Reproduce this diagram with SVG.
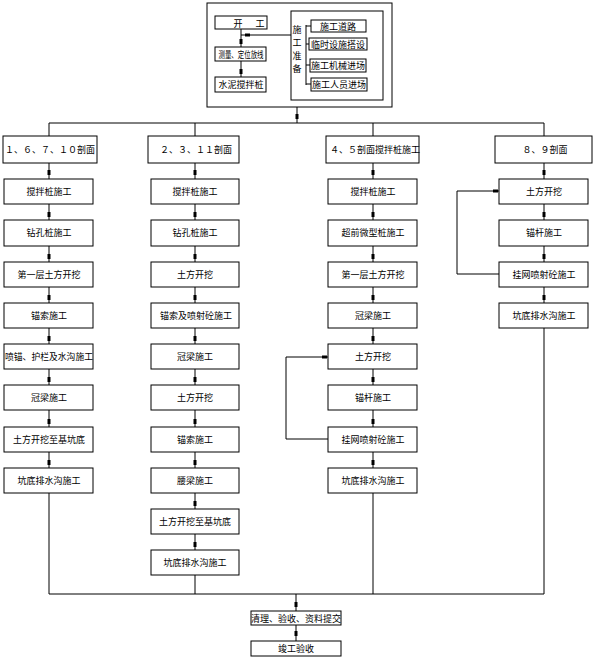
<svg xmlns="http://www.w3.org/2000/svg" xmlns:xlink="http://www.w3.org/1999/xlink" width="595" height="661" viewBox="0 0 595 661">
<style>
rect{fill:#fff;stroke:#000;stroke-width:1}
rect.f{fill:none}
.c{fill:none;stroke:#000;stroke-width:1}
text{font-family:"Noto Sans CJK SC","Liberation Sans",sans-serif;font-size:9px;fill:#000;text-anchor:middle}
</style>
<defs>
<path id="ad" d="M-1.5,-3h3v5h-3z" fill="#000"/>
<path id="ar" d="M-3,-1.5v3h5v-3z" fill="#000"/>
<path id="al" d="M3,-1.5v3h-5v-3z" fill="#000"/>
</defs>
<rect width="595" height="661" style="fill:#fff;stroke:none"/>
<g id="prep">
<rect class="f" x="207" y="3" width="185" height="104"/>
<rect class="f" x="291" y="11" width="92" height="89"/>
<text x="297" y="33" font-size="10">施</text><text x="297" y="46" font-size="10">工</text><text x="297" y="59" font-size="10">准</text><text x="297" y="72" font-size="10">备</text>
</g>
<g id="connectors">
<path class="c" d="M241,29V47M241,61V77M241,35H291M306,25V85M306,26H311M306,44H309M306,65H310M306,84H311M297,107V123M49,123H544M49,123V136M195,123V136M373,123V136M544,123V136"/>
<path class="c" d="M49,163V179M49,204V220M49,246V262M49,287V303M49,328V344M49,369V385M49,410V427M49,452V468M49,493V594"/>
<path class="c" d="M195,163V179M195,204V220M195,246V262M195,287V303M195,328V344M195,369V385M195,410V427M195,452V468M195,493V509M195,534V550M195,575V594"/>
<path class="c" d="M373,163V179M373,204V220M373,246V262M373,287V303M373,328V344M373,369V385M373,410V427M373,452V468M373,493V594M328,439H286V357H328"/>
<path class="c" d="M544,163V179M544,204V220M544,246V262M544,287V303M544,328V594M499,274H457V191H499"/>
<path class="c" d="M49,594H544M296,594V611M296,625V641"/>
<use href="#ad" x="241" y="42"/><use href="#ad" x="241" y="72"/><use href="#al" x="247" y="35"/><use href="#ad" x="297" y="117"/>
<use href="#ad" x="49" y="173"/><use href="#ad" x="49" y="215"/><use href="#ad" x="49" y="257"/><use href="#ad" x="49" y="298"/><use href="#ad" x="49" y="339"/><use href="#ad" x="49" y="380"/><use href="#ad" x="49" y="422"/><use href="#ad" x="49" y="463"/>
<use href="#ad" x="195" y="173"/><use href="#ad" x="195" y="215"/><use href="#ad" x="195" y="257"/><use href="#ad" x="195" y="298"/><use href="#ad" x="195" y="339"/><use href="#ad" x="195" y="380"/><use href="#ad" x="195" y="422"/><use href="#ad" x="195" y="463"/><use href="#ad" x="195" y="504"/><use href="#ad" x="195" y="545"/>
<use href="#ad" x="373" y="173"/><use href="#ad" x="373" y="215"/><use href="#ad" x="373" y="257"/><use href="#ad" x="373" y="298"/><use href="#ad" x="373" y="339"/><use href="#ad" x="373" y="380"/><use href="#ad" x="373" y="422"/><use href="#ad" x="373" y="463"/><use href="#ar" x="325" y="357"/>
<use href="#ad" x="544" y="173"/><use href="#ad" x="544" y="215"/><use href="#ad" x="544" y="257"/><use href="#ad" x="544" y="298"/><use href="#ar" x="496" y="191"/>
<use href="#ad" x="296" y="605"/><use href="#ad" x="296" y="634"/>
</g>
<g id="n-start"><rect x="215" y="16" width="52" height="13"/><text x="238" y="26.5" font-size="10">开</text><text x="260" y="26.5" font-size="10">工</text></g>
<g id="n-survey"><rect x="215" y="47" width="51" height="14"/><text x="241" y="57.5" textLength="45" lengthAdjust="spacingAndGlyphs">测量、定位放线</text></g>
<g id="n-mix"><rect x="215" y="77" width="51" height="15"/><text x="241" y="88">水泥搅拌桩</text></g>
<g id="n-road"><rect x="311" y="20" width="55" height="12"/><text x="338" y="29.5" font-size="9.5">施工道路</text></g>
<g id="n-temp"><rect x="309" y="38" width="58" height="12"/><text x="338" y="47.5">临时设施搭设</text></g>
<g id="n-mach"><rect x="310" y="59" width="56" height="13"/><text x="338" y="68.5">施工机械进场</text></g>
<g id="n-staff"><rect x="311" y="78" width="56" height="13"/><text x="339" y="87.5">施工人员进场</text></g>

<g id="h1"><rect x="3" y="136" width="94" height="27"/><text x="50" y="152.5">１、６、７、１０剖面</text></g>
<g id="h2"><rect x="148" y="136" width="91" height="27"/><text x="196" y="152.5">２、３、１１剖面</text></g>
<g id="h3"><rect x="326" y="136" width="93" height="27"/><text x="375" y="152.5">４、５剖面搅拌桩施工</text></g>
<g id="h4"><rect x="495" y="136" width="97" height="27"/><text x="545" y="152.5">８、９剖面</text></g>

<g id="c1-1"><rect x="4" y="179" width="89" height="25"/><text x="49" y="194.5">搅拌桩施工</text></g>
<g id="c1-2"><rect x="4" y="220" width="89" height="26"/><text x="49" y="236">钻孔桩施工</text></g>
<g id="c1-3"><rect x="4" y="262" width="89" height="25"/><text x="49" y="277.5">第一层土方开挖</text></g>
<g id="c1-4"><rect x="4" y="303" width="89" height="25"/><text x="49" y="318.5">锚索施工</text></g>
<g id="c1-5"><rect x="4" y="344" width="89" height="25"/><text x="49" y="359.5" textLength="88" lengthAdjust="spacingAndGlyphs">喷锚、护栏及水沟施工</text></g>
<g id="c1-6"><rect x="4" y="385" width="89" height="25"/><text x="49" y="400.5">冠梁施工</text></g>
<g id="c1-7"><rect x="4" y="427" width="89" height="25"/><text x="49" y="442.5">土方开挖至基坑底</text></g>
<g id="c1-8"><rect x="4" y="468" width="89" height="25"/><text x="49" y="483.5">坑底排水沟施工</text></g>

<g id="c2-1"><rect x="151" y="179" width="88" height="25"/><text x="195" y="194.5">搅拌桩施工</text></g>
<g id="c2-2"><rect x="151" y="220" width="88" height="26"/><text x="195" y="236">钻孔桩施工</text></g>
<g id="c2-3"><rect x="151" y="262" width="88" height="25"/><text x="195" y="277.5">土方开挖</text></g>
<g id="c2-4"><rect x="151" y="303" width="88" height="25"/><text x="196" y="318.5">锚索及喷射砼施工</text></g>
<g id="c2-5"><rect x="151" y="344" width="88" height="25"/><text x="195" y="359.5">冠梁施工</text></g>
<g id="c2-6"><rect x="151" y="385" width="88" height="25"/><text x="195" y="400.5">土方开挖</text></g>
<g id="c2-7"><rect x="151" y="427" width="88" height="25"/><text x="195" y="442.5">锚索施工</text></g>
<g id="c2-8"><rect x="151" y="468" width="88" height="25"/><text x="195" y="483.5">腰梁施工</text></g>
<g id="c2-9"><rect x="151" y="509" width="88" height="25"/><text x="195" y="524.5">土方开挖至基坑底</text></g>
<g id="c2-10"><rect x="151" y="550" width="88" height="25"/><text x="195" y="565.5">坑底排水沟施工</text></g>

<g id="c3-1"><rect x="328" y="179" width="89" height="25"/><text x="373" y="194.5">搅拌桩施工</text></g>
<g id="c3-2"><rect x="328" y="220" width="89" height="26"/><text x="373" y="236">超前微型桩施工</text></g>
<g id="c3-3"><rect x="328" y="262" width="89" height="25"/><text x="373" y="277.5">第一层土方开挖</text></g>
<g id="c3-4"><rect x="328" y="303" width="89" height="25"/><text x="373" y="318.5">冠梁施工</text></g>
<g id="c3-5"><rect x="328" y="344" width="89" height="25"/><text x="373" y="359.5">土方开挖</text></g>
<g id="c3-6"><rect x="328" y="385" width="89" height="25"/><text x="373" y="400.5">锚杆施工</text></g>
<g id="c3-7"><rect x="328" y="427" width="89" height="25"/><text x="373" y="442.5">挂网喷射砼施工</text></g>
<g id="c3-8"><rect x="328" y="468" width="89" height="25"/><text x="373" y="483.5">坑底排水沟施工</text></g>

<g id="c4-1"><rect x="499" y="179" width="89" height="25"/><text x="544" y="194.5">土方开挖</text></g>
<g id="c4-2"><rect x="499" y="220" width="89" height="26"/><text x="544" y="236">锚杆施工</text></g>
<g id="c4-3"><rect x="499" y="262" width="89" height="25"/><text x="544" y="277.5">挂网喷射砼施工</text></g>
<g id="c4-4"><rect x="499" y="303" width="89" height="25"/><text x="544" y="318.5">坑底排水沟施工</text></g>

<g id="n-clean"><rect x="251" y="611" width="90" height="14"/><text x="296" y="621.5">清理、验收、资料提交</text></g>
<g id="n-final"><rect x="251" y="641" width="90" height="15"/><text x="296" y="652">竣工验收</text></g>
</svg>
